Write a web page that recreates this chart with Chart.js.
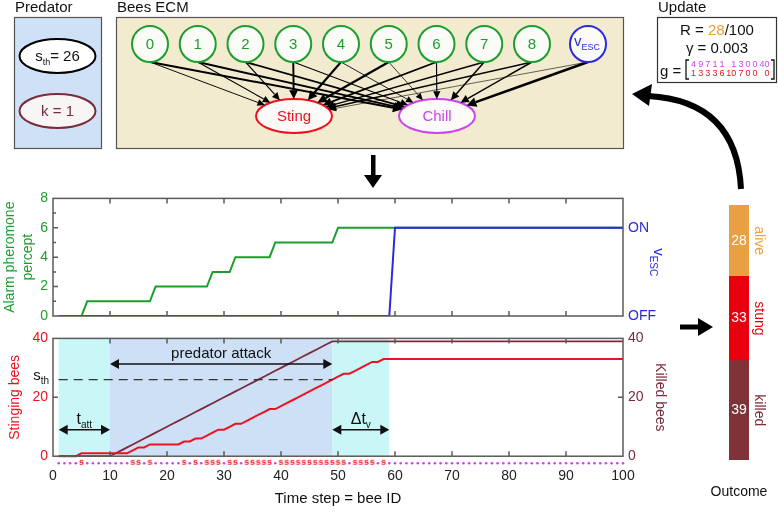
<!DOCTYPE html>
<html>
<head>
<meta charset="utf-8">
<script src="https://cdn.jsdelivr.net/npm/chart.js@4.4.1/dist/chart.umd.min.js"></script>
<style>
  html, body { margin: 0; padding: 0; background: #fff; }
  #page { position: relative; width: 778px; height: 512px; overflow: hidden; font-family: "Liberation Sans", Arial, sans-serif; }
  canvas, svg { position: absolute; }
  #alarmChart { left: 0; top: 185px; }
  #beesChart { left: 0; top: 325px; }
  #outcomeChart { left: 700px; top: 195px; }
  #diagram { left: 0; top: 0; pointer-events: none; font-family: "Liberation Sans", Arial, sans-serif; }
</style>
</head>
<body>
<div id="page">
  <canvas id="alarmChart" width="700" height="145"></canvas>
  <canvas id="beesChart" width="700" height="187"></canvas>
  <canvas id="outcomeChart" width="78" height="317"></canvas>
  <svg id="diagram" width="778" height="512"></svg>
</div>
<script>
// ---- data ----
var steps = [];
for (var t = 1; t <= 100; t++) steps.push(t);

var alarmPercept = [
  0, 0, 0, 0, 0, 1, 1, 1, 1, 1,
  1, 1, 1, 1, 1, 1, 1, 2, 2, 2,
  2, 2, 2, 2, 2, 2, 2, 3, 3, 3,
  3, 4, 4, 4, 4, 4, 4, 4, 5, 5,
  5, 5, 5, 5, 5, 5, 5, 5, 5, 6,
  6, 6, 6, 6, 6, 6, 6, 6, 6, 6,
  6, 6, 6, 6, 6, 6, 6, 6, 6, 6,
  6, 6, 6, 6, 6, 6, 6, 6, 6, 6,
  6, 6, 6, 6, 6, 6, 6, 6, 6, 6,
  6, 6, 6, 6, 6, 6, 6, 6, 6, 6
];

// v_ESC: 0 = OFF, 1 = ON
var escapeOn = [
  0, 0, 0, 0, 0, 0, 0, 0, 0, 0,
  0, 0, 0, 0, 0, 0, 0, 0, 0, 0,
  0, 0, 0, 0, 0, 0, 0, 0, 0, 0,
  0, 0, 0, 0, 0, 0, 0, 0, 0, 0,
  0, 0, 0, 0, 0, 0, 0, 0, 0, 0,
  0, 0, 0, 0, 0, 0, 0, 0, 0, 1,
  1, 1, 1, 1, 1, 1, 1, 1, 1, 1,
  1, 1, 1, 1, 1, 1, 1, 1, 1, 1,
  1, 1, 1, 1, 1, 1, 1, 1, 1, 1,
  1, 1, 1, 1, 1, 1, 1, 1, 1, 1
];

var stingingBees = [
  0, 0, 0, 0, 1, 1, 1, 1, 1, 1,
  1, 1, 1, 2, 3, 3, 4, 4, 4, 4,
  4, 4, 5, 5, 6, 6, 7, 8, 9, 9,
  10, 11, 11, 12, 13, 14, 15, 16, 16, 17,
  18, 19, 20, 21, 22, 23, 24, 25, 26, 27,
  28, 28, 29, 30, 31, 32, 32, 33, 33, 33,
  33, 33, 33, 33, 33, 33, 33, 33, 33, 33,
  33, 33, 33, 33, 33, 33, 33, 33, 33, 33,
  33, 33, 33, 33, 33, 33, 33, 33, 33, 33,
  33, 33, 33, 33, 33, 33, 33, 33, 33, 33
];

var killedBees = [
  0, 0, 0, 0, 0, 0, 0, 0, 0, 0,
  1, 2, 3, 4, 5, 6, 7, 8, 9, 10,
  11, 12, 13, 14, 15, 16, 17, 18, 19, 20,
  21, 22, 23, 24, 25, 26, 27, 28, 29, 30,
  31, 32, 33, 34, 35, 36, 37, 38, 39, 39,
  39, 39, 39, 39, 39, 39, 39, 39, 39, 39,
  39, 39, 39, 39, 39, 39, 39, 39, 39, 39,
  39, 39, 39, 39, 39, 39, 39, 39, 39, 39,
  39, 39, 39, 39, 39, 39, 39, 39, 39, 39,
  39, 39, 39, 39, 39, 39, 39, 39, 39, 39
];

// one action per bee: s = sting, . = chill
var beeActions =
  '....s........ss.s.....s.s.sss.ss.sssss.ssssssssssss.ssss.s' +
  '..........................................';

var sTh = 26;
var kParam = 1;
var gammaParam = 0.003;
var phaseEdges = [1, 10, 49, 59];   // start, attack start, threshold reached, escape

var ecmNodes = ['0', '1', '2', '3', '4', '5', '6', '7', '8', 'vESC'];
var gChill = [4, 9, 7, 1, 1, 1, 3, 0, 0, 40];
var gSting = [1, 3, 3, 3, 6, 10, 7, 0, 0, 0];

var outcomeLabels = ['killed', 'stung', 'alive'];
var outcomeCounts = [39, 33, 28];

// ---- styles ----
var FONT = '"Liberation Sans", Arial, sans-serif';
var GREEN = '#1a9e2c', BLUE = '#2a2ae0', RED = '#ee1120', MAROON = '#7a2c3a';
var MAGENTA = '#cc44ee', ORANGE = '#eb9d3c', FRAME = '#5a5a5a';
Chart.defaults.font.family = FONT;

function subText(ctx, main, sub, x, y, color, size, align) {
  ctx.font = size + 'px ' + FONT;
  var w1 = ctx.measureText(main).width;
  ctx.font = Math.round(size * 0.65) + 'px ' + FONT;
  var w2 = ctx.measureText(sub).width;
  var start = align === 'right' ? x - w1 - w2 : x - (w1 + w2) / 2;
  ctx.fillStyle = color;
  ctx.textAlign = 'left';
  ctx.textBaseline = 'middle';
  ctx.font = size + 'px ' + FONT;
  ctx.fillText(main, start, y);
  ctx.font = Math.round(size * 0.65) + 'px ' + FONT;
  ctx.fillText(sub, start + w1, y + size * 0.35);
}

function rotText(ctx, text, x, y, angle, color, size) {
  ctx.save();
  ctx.translate(x, y);
  ctx.rotate(angle);
  ctx.font = size + 'px ' + FONT;
  ctx.fillStyle = color;
  ctx.textAlign = 'center';
  ctx.textBaseline = 'middle';
  ctx.fillText(text, 0, 0);
  ctx.restore();
}

function hArrow(ctx, x0, x1, y) {
  ctx.beginPath();
  ctx.moveTo(x0 + 7, y); ctx.lineTo(x1 - 7, y);
  ctx.stroke();
  ctx.beginPath();
  ctx.moveTo(x0, y); ctx.lineTo(x0 + 9, y - 5); ctx.lineTo(x0 + 9, y + 5); ctx.closePath();
  ctx.moveTo(x1, y); ctx.lineTo(x1 - 9, y - 5); ctx.lineTo(x1 - 9, y + 5); ctx.closePath();
  ctx.fill();
}

function points(values) {
  return steps.map(function (s, i) { return { x: s, y: values[i] }; });
}

// ---- top chart: alarm pheromone percept ----
var alarmDecor = {
  id: 'alarmDecor',
  afterDatasetsDraw: function (chart) {
    var ctx = chart.ctx, a = chart.chartArea, x = chart.scales.x, y = chart.scales.y;
    ctx.save();
    ctx.strokeStyle = FRAME;
    ctx.lineWidth = 1.5;
    ctx.strokeRect(a.left, a.top, a.right - a.left, a.bottom - a.top);
    ctx.beginPath();
    for (var v = 10; v < 100; v += 10) {
      var px = x.getPixelForValue(v);
      ctx.moveTo(px, a.top); ctx.lineTo(px, a.top + 5);
      ctx.moveTo(px, a.bottom); ctx.lineTo(px, a.bottom - 5);
    }
    for (var k = 1; k < 8; k++) {
      var py = y.getPixelForValue(k);
      ctx.moveTo(a.left, py); ctx.lineTo(a.left + (k % 2 ? 3 : 5), py);
    }
    ctx.stroke();
    var mid = (a.top + a.bottom) / 2;
    rotText(ctx, 'Alarm pheromone', 10, mid, -Math.PI / 2, GREEN, 14);
    rotText(ctx, 'percept', 28, mid, -Math.PI / 2, GREEN, 14);
    ctx.translate(658, mid + 5);
    ctx.rotate(Math.PI / 2);
    subText(ctx, 'v', 'ESC', 0, 0, BLUE, 15);
    ctx.restore();
  }
};

new Chart(document.getElementById('alarmChart'), {
  type: 'line',
  data: {
    datasets: [
      { label: 'vESC', data: points(escapeOn), yAxisID: 'y2', borderColor: BLUE, borderWidth: 2, pointRadius: 0, tension: 0 },
      { label: 'Alarm pheromone percept', data: points(alarmPercept), yAxisID: 'y', borderColor: GREEN, borderWidth: 2, pointRadius: 0, tension: 0 }
    ]
  },
  options: {
    responsive: false,
    animation: false,
    events: [],
    layout: { padding: { top: 12, left: 0, right: 0, bottom: 0 } },
    plugins: { legend: { display: false }, tooltip: { enabled: false } },
    scales: {
      x: {
        type: 'linear', min: 0, max: 100,
        ticks: { display: false }, grid: { display: false }, border: { display: false },
        afterFit: function (s) { s.height = 14; }
      },
      y: {
        min: 0, max: 8, position: 'left',
        ticks: { stepSize: 2, color: GREEN, font: { size: 14 }, padding: 5 },
        grid: { display: false, drawTicks: false }, border: { display: false },
        afterFit: function (s) { s.width = 53; }
      },
      y2: {
        min: 0, max: 8 / 6, position: 'right',
        afterBuildTicks: function (s) { s.ticks = [{ value: 0 }, { value: 1 }]; },
        ticks: { color: BLUE, font: { size: 14 }, padding: 5, callback: function (v) { return v === 1 ? 'ON' : 'OFF'; } },
        grid: { display: false, drawTicks: false }, border: { display: false },
        afterFit: function (s) { s.width = 77; }
      }
    }
  },
  plugins: [alarmDecor]
});

// ---- bottom chart: stinging and killed bees ----
var sGlyph = document.createElement('canvas');
sGlyph.width = 7; sGlyph.height = 9;
(function () {
  var g = sGlyph.getContext('2d');
  g.font = 'bold 9px ' + FONT;
  g.fillStyle = RED;
  g.textAlign = 'center';
  g.textBaseline = 'middle';
  g.fillText('s', 3.5, 4);
})();

var stingMarks = [], chillMarks = [];
steps.forEach(function (s, i) {
  (beeActions[i] === 's' ? stingMarks : chillMarks).push({ x: s, y: -2.4 });
});

var beesDecor = {
  id: 'beesDecor',
  beforeDatasetsDraw: function (chart) {
    var ctx = chart.ctx, a = chart.chartArea, x = chart.scales.x, y = chart.scales.y;
    var fills = ['#c9f6f6', '#cee0f6', '#c9f6f6'];
    var bottom = y.getPixelForValue(0);
    ctx.save();
    for (var i = 0; i < phaseEdges.length - 1; i++) {
      var x0 = x.getPixelForValue(phaseEdges[i]), x1 = x.getPixelForValue(phaseEdges[i + 1]);
      ctx.fillStyle = fills[i];
      ctx.fillRect(x0, a.top, x1 - x0, bottom - a.top);
    }
    ctx.restore();
  },
  afterDatasetsDraw: function (chart) {
    var ctx = chart.ctx, a = chart.chartArea, x = chart.scales.x, y = chart.scales.y;
    var bottom = y.getPixelForValue(0);
    ctx.save();
    ctx.strokeStyle = FRAME;
    ctx.lineWidth = 1.5;
    ctx.strokeRect(a.left, a.top, a.right - a.left, bottom - a.top);
    ctx.beginPath();
    for (var v = 10; v < 100; v += 10) {
      var px = x.getPixelForValue(v);
      ctx.moveTo(px, a.top); ctx.lineTo(px, a.top + 5);
      ctx.moveTo(px, bottom); ctx.lineTo(px, bottom - 5);
    }
    [20].forEach(function (k) {
      var py = y.getPixelForValue(k);
      ctx.moveTo(a.left, py); ctx.lineTo(a.left + 5, py);
      ctx.moveTo(a.right, py); ctx.lineTo(a.right - 5, py);
    });
    ctx.stroke();

    // annotations
    ctx.fillStyle = '#111';
    ctx.strokeStyle = '#111';
    ctx.lineWidth = 1.5;
    var xA = x.getPixelForValue(phaseEdges[0]), xB = x.getPixelForValue(phaseEdges[1]);
    var xC = x.getPixelForValue(phaseEdges[2]), xD = x.getPixelForValue(phaseEdges[3]);
    hArrow(ctx, xB, xC, y.getPixelForValue(31.3));
    ctx.font = '15px ' + FONT;
    ctx.textAlign = 'center';
    ctx.textBaseline = 'middle';
    ctx.fillText('predator attack', (xB + xC) / 2, y.getPixelForValue(34.7));
    hArrow(ctx, xA, xB, y.getPixelForValue(9));
    hArrow(ctx, xC, xD, y.getPixelForValue(9));
    subText(ctx, 't', 'att', (xA + xB) / 2, y.getPixelForValue(12.3), '#111', 16);
    subText(ctx, '\u0394t', 'v', (xC + xD) / 2, y.getPixelForValue(12.3), '#111', 16);

    // axis titles and threshold label
    var mid = (a.top + bottom) / 2;
    rotText(ctx, 'Stinging bees', 15, mid, -Math.PI / 2, RED, 14);
    rotText(ctx, 'Killed bees', 660, mid, Math.PI / 2, MAROON, 14);
    var pth = y.getPixelForValue(sTh);
    subText(ctx, 's', 'th', 49, pth - 4, '#111', 15, 'right');
    ctx.restore();
  }
};

new Chart(document.getElementById('beesChart'), {
  type: 'line',
  data: {
    datasets: [
      { label: 's_th', data: [{ x: phaseEdges[0], y: sTh }, { x: phaseEdges[2], y: sTh }], borderColor: '#333', borderWidth: 1.2, borderDash: [9, 6], pointRadius: 0 },
      { label: 'Stinging bees', data: points(stingingBees), borderColor: RED, borderWidth: 2, pointRadius: 0, tension: 0 },
      { label: 'Killed bees', data: points(killedBees), yAxisID: 'y2', borderColor: MAROON, borderWidth: 1.8, pointRadius: 0, tension: 0 },
      { label: 'sting', data: stingMarks, showLine: false, pointStyle: sGlyph, pointRadius: 3, clip: false },
      { label: 'chill', data: chillMarks, showLine: false, pointStyle: 'circle', pointRadius: 1.3, pointBackgroundColor: MAGENTA, pointBorderWidth: 0, clip: false }
    ]
  },
  options: {
    responsive: false,
    animation: false,
    events: [],
    layout: { padding: { top: 11, left: 0, right: 0, bottom: 0 } },
    plugins: { legend: { display: false }, tooltip: { enabled: false } },
    scales: {
      x: {
        type: 'linear', min: 0, max: 100,
        ticks: { stepSize: 10, color: '#222', font: { size: 14 }, padding: 0, maxRotation: 0 },
        grid: { display: false, drawTicks: false }, border: { display: false },
        title: { display: true, text: 'Time step = bee ID', color: '#111', font: { size: 15 }, padding: { top: 0, bottom: 4 } },
        afterFit: function (s) { s.height = 44; }
      },
      y: {
        min: -4, max: 40, position: 'left',
        afterBuildTicks: function (s) { s.ticks = [{ value: 0 }, { value: 20 }, { value: 40 }]; },
        ticks: { color: RED, font: { size: 14 }, padding: 5 },
        grid: { display: false, drawTicks: false }, border: { display: false },
        afterFit: function (s) { s.width = 53; }
      },
      y2: {
        min: -4, max: 40, position: 'right',
        afterBuildTicks: function (s) { s.ticks = [{ value: 0 }, { value: 20 }, { value: 40 }]; },
        ticks: { color: MAROON, font: { size: 14 }, padding: 5 },
        grid: { display: false, drawTicks: false }, border: { display: false },
        afterFit: function (s) { s.width = 77; }
      }
    }
  },
  plugins: [beesDecor]
});

// ---- outcome stacked bar ----
var outcomeColors = ['#7f3338', '#e8000e', '#e9a042'];
var outcomeText = ['#7a2a30', '#e80010', '#f0a040'];
var outcomeDecor = {
  id: 'outcomeDecor',
  afterDatasetsDraw: function (chart) {
    var ctx = chart.ctx;
    ctx.save();
    chart.data.datasets.forEach(function (ds, i) {
      var bar = chart.getDatasetMeta(i).data[0];
      var midY = (bar.y + bar.base) / 2;
      ctx.font = '14px ' + FONT;
      ctx.fillStyle = '#fff';
      ctx.textAlign = 'center';
      ctx.textBaseline = 'middle';
      ctx.fillText(String(ds.data[0]), bar.x, midY);
      rotText(ctx, ds.label, bar.x + 20, midY, Math.PI / 2, outcomeText[i], 14);
    });
    ctx.font = '14px ' + FONT;
    ctx.fillStyle = '#111';
    ctx.textAlign = 'center';
    ctx.fillText('Outcome', 39, 297);
    ctx.restore();
  }
};

new Chart(document.getElementById('outcomeChart'), {
  type: 'bar',
  data: {
    labels: ['Outcome'],
    datasets: outcomeLabels.map(function (lab, i) {
      return { label: lab, data: [outcomeCounts[i]], backgroundColor: outcomeColors[i], borderWidth: 0, barPercentage: 1, categoryPercentage: 1 };
    })
  },
  options: {
    responsive: false,
    animation: false,
    events: [],
    layout: { padding: { top: 10, left: 29, right: 29, bottom: 52 } },
    plugins: { legend: { display: false }, tooltip: { enabled: false } },
    scales: {
      x: { stacked: true, display: false },
      y: { stacked: true, display: false, min: 0, max: 100 }
    }
  },
  plugins: [outcomeDecor]
});

// ---- diagram: predator, ECM, update box, arrows ----
(function () {
  var m = [];
  m.push('<text x="15" y="12" font-size="15" fill="#111">Predator</text>');
  m.push('<text x="117" y="12" font-size="15" fill="#111">Bees ECM</text>');
  m.push('<text x="658" y="12" font-size="15" fill="#111">Update</text>');

  // predator box
  m.push('<rect x="14.5" y="17.5" width="87" height="131" fill="#cfe1f7" stroke="#555" stroke-width="1.2"/>');
  m.push('<ellipse cx="57.5" cy="56" rx="38" ry="17" fill="#fff" stroke="#000" stroke-width="2"/>');
  m.push('<text x="57.5" y="61" text-anchor="middle" font-size="15" fill="#111">s<tspan font-size="9" dy="4">th</tspan><tspan dy="-4">= ' + sTh + '</tspan></text>');
  m.push('<ellipse cx="57.5" cy="111" rx="38" ry="17" fill="#f8f5f5" stroke="' + MAROON + '" stroke-width="2"/>');
  m.push('<text x="57.5" y="116" text-anchor="middle" font-size="15" fill="' + MAROON + '">k = ' + kParam + '</text>');

  // ECM box
  m.push('<rect x="116.5" y="17.5" width="507" height="131" fill="#f3ebcf" stroke="#555" stroke-width="1.2"/>');
  var cy = 44, r = 18;
  var cxs = ecmNodes.map(function (n, i) { return i < 9 ? 150 + i * 47.75 : 588; });
  var targets = [
    { cx: 294, cy: 116, label: 'Sting', color: RED, w: gSting },
    { cx: 437, cy: 116, label: 'Chill', color: MAGENTA, w: gChill }
  ];
  targets.forEach(function (tg) {
    m.push('<ellipse cx="' + tg.cx + '" cy="' + tg.cy + '" rx="38" ry="17" fill="#fbfaf6" stroke="' + tg.color + '" stroke-width="2"/>');
    m.push('<text x="' + tg.cx + '" y="' + (tg.cy + 5) + '" text-anchor="middle" font-size="15" fill="' + tg.color + '">' + tg.label + '</text>');
  });
  ecmNodes.forEach(function (n, i) {
    var sx = cxs[i], sy = cy + r;
    var total = gSting[i] + gChill[i];
    targets.forEach(function (tg) {
      var share = total ? tg.w[i] / total : 0.5;
      var lw = 0.6 + 1.8 * share;
      var dx = sx - tg.cx, dy = sy - tg.cy;
      var s = 1 / Math.sqrt((dx / 38) * (dx / 38) + (dy / 17) * (dy / 17));
      var ex = tg.cx + dx * s, ey = tg.cy + dy * s;
      var len = Math.sqrt((sx - ex) * (sx - ex) + (sy - ey) * (sy - ey));
      var ux = (ex - sx) / len, uy = (ey - sy) / len;
      var hl = 6 + lw * 1.5, hw = 2.5 + lw;
      var bx = ex - ux * hl, by = ey - uy * hl;
      m.push('<line x1="' + sx + '" y1="' + sy + '" x2="' + bx + '" y2="' + by + '" stroke="#000" stroke-width="' + lw.toFixed(2) + '"/>');
      m.push('<polygon points="' + ex + ',' + ey + ' ' + (bx - uy * hw) + ',' + (by + ux * hw) + ' ' + (bx + uy * hw) + ',' + (by - ux * hw) + '" fill="#000"/>');
    });
  });
  ecmNodes.forEach(function (n, i) {
    var col = i < 9 ? GREEN : BLUE;
    m.push('<circle cx="' + cxs[i] + '" cy="' + cy + '" r="' + r + '" fill="#fbfbf8" stroke="' + col + '" stroke-width="2"/>');
    if (i < 9) {
      m.push('<text x="' + cxs[i] + '" y="' + (cy + 5) + '" text-anchor="middle" font-size="15" fill="' + col + '">' + n + '</text>');
    } else {
      m.push('<text x="' + (cxs[i] - 1) + '" y="' + (cy + 2) + '" text-anchor="middle" font-size="15" fill="' + col + '">v<tspan font-size="9" dy="4">ESC</tspan></text>');
    }
  });

  // update box
  m.push('<rect x="657.5" y="17.5" width="119" height="65" fill="#fff" stroke="#333" stroke-width="1.2"/>');
  m.push('<text x="717" y="35" text-anchor="middle" font-size="15" fill="#111">R = <tspan fill="' + ORANGE + '">' + outcomeCounts[2] + '</tspan>/100</text>');
  m.push('<text x="717" y="53" text-anchor="middle" font-size="15" fill="#111">\u03b3 = ' + gammaParam + '</text>');
  m.push('<text x="660" y="76" font-size="15" fill="#111">g =</text>');
  m.push('<path d="M689,60 H686 V79 H689 M771,60 H774 V79 H771" fill="none" stroke="#111" stroke-width="1.3"/>');
  var colX = 689;
  for (var c = 0; c < gChill.length; c++) {
    var wd = Math.max(String(gChill[c]).length, String(gSting[c]).length) * 4.7 + 2.4;
    colX += wd;
    m.push('<text x="' + colX.toFixed(1) + '" y="67" text-anchor="end" font-size="9" fill="' + MAGENTA + '">' + gChill[c] + '</text>');
    m.push('<text x="' + colX.toFixed(1) + '" y="76" text-anchor="end" font-size="9" fill="' + RED + '">' + gSting[c] + '</text>');
  }

  // arrows
  m.push('<rect x="371" y="155" width="4.5" height="21" fill="#000"/>');
  m.push('<polygon points="364,175 382,175 373,188" fill="#000"/>');
  m.push('<rect x="680" y="324.5" width="20" height="5" fill="#000"/>');
  m.push('<polygon points="698,318 698,336 713,327" fill="#000"/>');
  m.push('<path d="M741,189 C738,128 705,99 648,96" fill="none" stroke="#000" stroke-width="6"/>');
  m.push('<polygon points="632,94 652,84 649,106" fill="#000"/>');

  document.getElementById('diagram').innerHTML = m.join('');
})();
</script>
</body>
</html>
